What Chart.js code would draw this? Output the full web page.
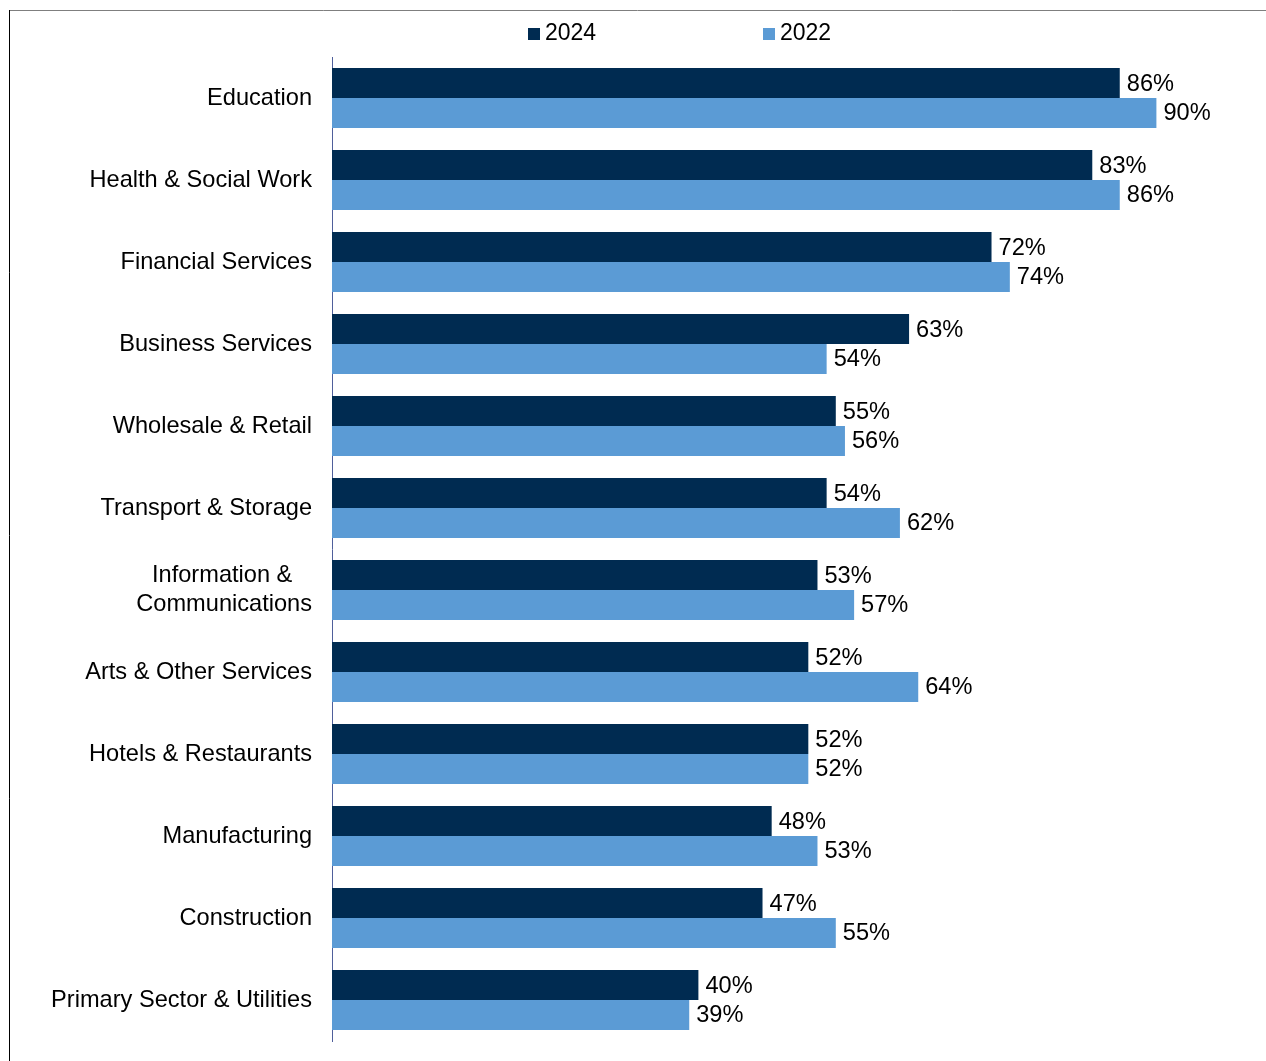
<!DOCTYPE html>
<html>
<head>
<meta charset="utf-8">
<script src="https://cdn.jsdelivr.net/npm/chart.js@4/dist/chart.umd.min.js"></script>
<style>
  html, body { margin: 0; padding: 0; background: #ffffff; }
  #wrap { position: relative; width: 1266px; height: 1061px; }
</style>
</head>
<body>
<div id="wrap"><canvas id="chart" width="1266" height="1061"></canvas></div>
<script>
// Sector categories (top to bottom)
const sectors = [
  'Education',
  'Health & Social Work',
  'Financial Services',
  'Business Services',
  'Wholesale & Retail',
  'Transport & Storage',
  ['Information &   ', 'Communications'],
  'Arts & Other Services',
  'Hotels & Restaurants',
  'Manufacturing',
  'Construction',
  'Primary Sector & Utilities'
];

// Share by sector, percent
const values2024 = [86, 83, 72, 63, 55, 54, 53, 52, 52, 48, 47, 40];
const values2022 = [90, 86, 74, 54, 56, 62, 57, 64, 52, 53, 55, 39];

const seriesNames = ['2024', '2022'];
const seriesColors = ['#002B51', '#5B9BD5'];

const FONT = 'Arial, "Liberation Sans", sans-serif';
const TEXT_SIZE = 23.6;

// Outer frame of the chart box
const framePlugin = {
  id: 'frame',
  beforeDraw(chart) {
    const ctx = chart.ctx;
    ctx.save();
    ctx.fillStyle = '#ffffff';
    ctx.fillRect(0, 0, chart.width, chart.height);
    ctx.lineWidth = 1;
    ctx.strokeStyle = '#7f7f7f';
    ctx.beginPath();
    ctx.moveTo(9, 10.5);
    ctx.lineTo(chart.width, 10.5);
    ctx.stroke();
    ctx.strokeStyle = '#000000';
    ctx.beginPath();
    ctx.moveTo(9.5, 10);
    ctx.lineTo(9.5, chart.height);
    ctx.stroke();
    ctx.restore();
  }
};

// Value labels at the end of each bar
const valueLabels = {
  id: 'valueLabels',
  afterDatasetsDraw(chart) {
    const ctx = chart.ctx;
    ctx.save();
    ctx.font = TEXT_SIZE + 'px ' + FONT;
    ctx.fillStyle = '#000000';
    ctx.textAlign = 'left';
    ctx.textBaseline = 'middle';
    chart.data.datasets.forEach((ds, i) => {
      chart.getDatasetMeta(i).data.forEach((bar, j) => {
        ctx.fillText(ds.data[j] + '%', bar.x + 7, bar.y + 1);
      });
    });
    ctx.restore();
  }
};

// Legend row above the plot
const topLegend = {
  id: 'topLegend',
  afterDraw(chart) {
    const ctx = chart.ctx;
    const positions = [528, 763];
    ctx.save();
    ctx.font = '23px ' + FONT;
    ctx.textBaseline = 'middle';
    ctx.textAlign = 'left';
    chart.data.datasets.forEach((ds, i) => {
      const x = positions[i];
      ctx.fillStyle = ds.backgroundColor;
      ctx.fillRect(x, 28, 12, 12);
      ctx.fillStyle = '#000000';
      ctx.fillText(ds.label, x + 17, 34);
    });
    ctx.restore();
  }
};

new Chart(document.getElementById('chart'), {
  type: 'bar',
  data: {
    labels: sectors,
    datasets: [
      { label: seriesNames[0], data: values2024, backgroundColor: seriesColors[0] },
      { label: seriesNames[1], data: values2022, backgroundColor: seriesColors[1] }
    ]
  },
  options: {
    indexAxis: 'y',
    responsive: false,
    animation: false,
    devicePixelRatio: 1,
    layout: { padding: { top: 57, bottom: 20, left: 0, right: 18 } },
    datasets: { bar: { categoryPercentage: 0.73, barPercentage: 1.0 } },
    plugins: {
      legend: { display: false },
      tooltip: { enabled: false }
    },
    scales: {
      x: {
        display: false,
        min: 0,
        max: 100
      },
      y: {
        grid: { display: false, drawTicks: false },
        border: { display: true, color: '#4F5F9B', width: 1 },
        afterFit(scale) {
          scale.width = 332;
          scale.paddingTop = 0;
          scale.paddingBottom = 0;
        },
        ticks: {
          color: '#000000',
          padding: 20,
          font: { family: FONT, size: TEXT_SIZE, lineHeight: 1.2 }
        }
      }
    }
  },
  plugins: [framePlugin, valueLabels, topLegend]
});
</script>
</body>
</html>
